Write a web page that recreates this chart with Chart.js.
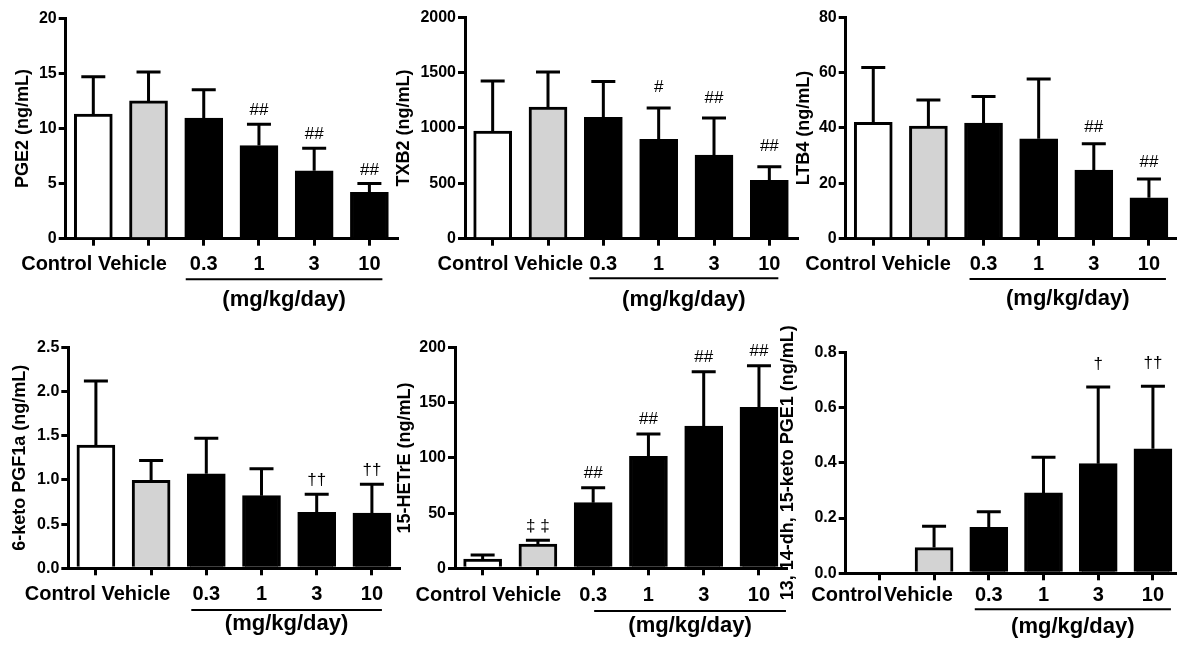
<!DOCTYPE html>
<html><head><meta charset="utf-8">
<script src="https://cdn.jsdelivr.net/npm/chart.js@4.4.1/dist/chart.umd.min.js"></script>
<style>
html,body{margin:0;padding:0;background:#fff;width:1177px;height:645px;overflow:hidden;position:relative}
canvas{position:absolute;display:block}
</style></head><body>
<canvas id="p1"></canvas><canvas id="p2"></canvas><canvas id="p3"></canvas>
<canvas id="p4"></canvas><canvas id="p5"></canvas><canvas id="p6"></canvas>
<script>
// ---------- data ----------
const categories = ['Control', 'Vehicle', '0.3', '1', '3', '10'];
const groupFill = ['#ffffff', '#d3d3d3', '#000000', '#000000', '#000000', '#000000'];
const doseUnit = '(mg/kg/day)';

const pge2Mean = [11.3, 12.5, 10.95, 8.45, 6.17, 4.2];
const pge2Err  = [3.4, 2.63, 2.57, 1.93, 2.03, 0.8];
const pge2Sig  = ['', '', '', '##', '##', '##'];
const pge2Ticks = ['0', '5', '10', '15', '20'];

const txb2Mean = [973, 1190, 1096, 898, 756, 527];
const txb2Err  = [452, 316, 323, 283, 334, 124];
const txb2Sig  = ['', '', '', '#', '##', '##'];
const txb2Ticks = ['0', '500', '1000', '1500', '2000'];

const ltb4Mean = [42.05, 40.7, 41.8, 36.1, 24.8, 14.8];
const ltb4Err  = [19.85, 9.4, 9.6, 21.6, 9.5, 6.8];
const ltb4Sig  = ['', '', '', '', '##', '##'];
const ltb4Ticks = ['0', '20', '40', '60', '80'];

const pgf1aMean = [1.395, 0.995, 1.07, 0.822, 0.633, 0.626];
const pgf1aErr  = [0.725, 0.225, 0.4, 0.305, 0.204, 0.324];
const pgf1aSig  = ['', '', '', '', '\u2020\u2020', '\u2020\u2020'];
const pgf1aTicks = ['0.0', '0.5', '1.0', '1.5', '2.0', '2.5'];

const hetreMean = [8.46, 22.05, 59.5, 101.5, 129, 145.9];
const hetreErr  = [3.64, 3.35, 13.6, 20.3, 49.2, 37.8];
const hetreSig  = ['', '\u2021 \u2021', '##', '##', '##', '##'];
const hetreTicks = ['0', '50', '100', '150', '200'];

const pge1Mean = [0, 0.093, 0.1665, 0.291, 0.397, 0.451];
const pge1Err  = [0, 0.077, 0.0565, 0.129, 0.277, 0.226];
const pge1Sig  = ['', '', '', '', '\u2020', '\u2020\u2020'];
const pge1Ticks = ['0.0', '0.2', '0.4', '0.6', '0.8'];

// ---------- panel definitions (styles / layout) ----------
const FONT = '"Liberation Sans", Arial, Helvetica, sans-serif';
const panels = [
  {id:'p1', title:'PGE2 (ng/mL)', mean:pge2Mean, err:pge2Err, sig:pge2Sig, ticks:pge2Ticks, yMax:20, step:5,
   cell:[0,0,410,320], area:[65.7,18.3,397,238.7], xmin:-0.5, xmax:5.5, titleDx:43, ctrl:[-1,5.6], line:[-18,13,40.6], unitDy:61.3, labelDy:25.8, gap:7.5},
  {id:'p2', title:'TXB2 (ng/mL)', mean:txb2Mean, err:txb2Err, sig:txb2Sig, ticks:txb2Ticks, yMax:2000, step:500,
   cell:[395,0,410,320], area:[465,17.3,797,238.7], xmin:-0.5, xmax:5.5, titleDx:61, ctrl:[16,5.6], line:[-14,9,39.6], unitDy:61.3, labelDy:25.3, gap:14},
  {id:'p3', title:'LTB4 (ng/mL)', mean:ltb4Mean, err:ltb4Err, sig:ltb4Sig, ticks:ltb4Ticks, yMax:80, step:20,
   cell:[775,0,402,320], area:[845.7,17.3,1176.5,238.7], xmin:-0.5, xmax:5.5, titleDx:42, ctrl:[3,5.6], line:[-14,17,40.3], unitDy:60.3, labelDy:25.5, gap:10},
  {id:'p4', title:'6-keto PGF1a (ng/mL)', mean:pgf1aMean, err:pgf1aErr, sig:pgf1aSig, ticks:pgf1aTicks, yMax:2.5, step:0.5,
   cell:[0,320,410,325], area:[68.3,347.3,399.5,568.3], xmin:-0.5, xmax:5.5, titleDx:48, ctrl:[0,5.6], line:[-15,10,41.7], unitDy:55.7, labelDy:25.9, gap:7.5},
  {id:'p5', title:'15-HETrE (ng/mL)', mean:hetreMean, err:hetreErr, sig:hetreSig, ticks:hetreTicks, yMax:200, step:50,
   cell:[395,320,410,325], area:[455,347.7,786.6,568.3], xmin:-0.5, xmax:5.5, titleDx:50, ctrl:[4,5.6], line:[1,27,42.7], unitDy:57.7, labelDy:27.2, gap:8},
  {id:'p6', title:'13, 14-dh, 15-keto PGE1 (ng/mL)', mean:pge1Mean, err:pge1Err, sig:pge1Sig, ticks:pge1Ticks, yMax:0.8, step:0.2,
   cell:[775,320,402,325], area:[845.7,352.3,1177,573.3], xmin:-0.615, xmax:5.44, titleDx:58, ctrl:[3,1.5], line:[-14,18,36], unitDy:53.7, labelDy:22, gap:17}
];

Chart.defaults.font.family = FONT;
Chart.defaults.color = '#000';

function makePanel(P) {
  const [cl, ct, cw, ch] = P.cell;
  const [al, at, ar, ab] = P.area;
  const cv = document.getElementById(P.id);
  cv.width = cw; cv.height = ch;
  cv.style.left = cl + 'px'; cv.style.top = ct + 'px';
  cv.style.width = cw + 'px'; cv.style.height = ch + 'px';
  const Yw = al - cl, Xh = ct + ch - ab;
  const padTop = at - ct, padRight = cl + cw - ar;

  const deco = {
    id: 'deco_' + P.id,
    afterDraw(chart) {
      const {ctx, chartArea: a, scales: {x, y}} = chart;
      ctx.save();
      ctx.strokeStyle = '#000'; ctx.fillStyle = '#000'; ctx.lineWidth = 3; ctx.lineCap = 'butt';
      const capW = 24;
      P.mean.forEach((m, i) => {
        const px = x.getPixelForValue(i);
        const y1 = y.getPixelForValue(m + P.err[i]);
        if (P.err[i] > 0) {
          const y0 = y.getPixelForValue(m);
          ctx.beginPath();
          ctx.moveTo(px, y0); ctx.lineTo(px, y1);
          ctx.moveTo(px - capW / 2, y1); ctx.lineTo(px + capW / 2, y1);
          ctx.stroke();
        }
        if (P.sig[i]) {
          ctx.font = '17px ' + FONT;
          ctx.textAlign = 'center'; ctx.textBaseline = 'alphabetic';
          ctx.fillText(P.sig[i], px, y1 - 1.5 - P.gap);
        }
      });
      ctx.font = 'bold 20px ' + FONT;
      ctx.textBaseline = 'middle';
      const ly = a.bottom + P.labelDy;
      const c0 = x.getPixelForValue(0);
      ctx.textAlign = 'right';
      ctx.fillText(categories[0], c0 + P.ctrl[0], ly);
      ctx.textAlign = 'left';
      ctx.fillText(categories[1], c0 + P.ctrl[0] + P.ctrl[1], ly);
      ctx.textAlign = 'center';
      for (let i = 2; i < categories.length; i++) ctx.fillText(categories[i], x.getPixelForValue(i), ly);
      const x1 = x.getPixelForValue(2) + P.line[0];
      const x2 = x.getPixelForValue(5) + P.line[1];
      const uy = a.bottom + P.line[2];
      ctx.lineWidth = 2;
      ctx.beginPath(); ctx.moveTo(x1, uy); ctx.lineTo(x2, uy); ctx.stroke();
      ctx.font = 'bold 22px ' + FONT;
      ctx.fillText(doseUnit, (x1 + x2) / 2, a.bottom + P.unitDy);
      ctx.translate(a.left - P.titleDx, (a.top + a.bottom) / 2);
      ctx.rotate(-Math.PI / 2);
      ctx.font = 'bold 18px ' + FONT;
      ctx.textAlign = 'center'; ctx.textBaseline = 'middle';
      ctx.fillText(P.title, 0, 0);
      ctx.restore();
    }
  };

  const gridOpts = {display: true, offset: false, drawOnChartArea: false, drawTicks: true, tickLength: 7, tickWidth: 3, tickColor: '#000', color: '#000', lineWidth: 3};
  const borderOpts = {display: true, color: '#000', width: 3};

  new Chart(cv, {
    type: 'bar',
    data: {
      datasets: [{
        data: categories.map((c, i) => ({x: i, y: P.mean[i]})),
        backgroundColor: groupFill,
        borderColor: '#000',
        borderWidth: 3,
        borderSkipped: 'start',
        barThickness: 38
      }]
    },
    options: {
      responsive: false,
      animation: false,
      events: [],
      devicePixelRatio: 1,
      layout: {padding: {left: 0, top: padTop, right: padRight, bottom: 0}, autoPadding: false},
      plugins: {legend: {display: false}, tooltip: {enabled: false}},
      scales: {
        x: {
          type: 'linear', min: P.xmin, max: P.xmax, offset: false,
          afterBuildTicks: s => { s.ticks = categories.map((c, i) => ({value: i})); },
          ticks: {display: false},
          grid: gridOpts, border: borderOpts,
          afterFit: s => { s.height = Xh; s.paddingLeft = 0; s.paddingRight = 0; s.paddingTop = 0; s.paddingBottom = 0; }
        },
        y: {
          min: 0, max: P.yMax,
          ticks: {stepSize: P.step, color: '#000', padding: 2, font: {family: FONT, size: 16, weight: 'bold'},
                  callback: v => P.ticks[Math.round(v / P.step)]},
          grid: gridOpts, border: borderOpts,
          afterFit: s => { s.width = Yw; s.paddingTop = 0; s.paddingBottom = 0; s.paddingLeft = 0; s.paddingRight = 0; }
        }
      }
    },
    plugins: [deco]
  });
}
panels.forEach(makePanel);
</script>
</body></html>
